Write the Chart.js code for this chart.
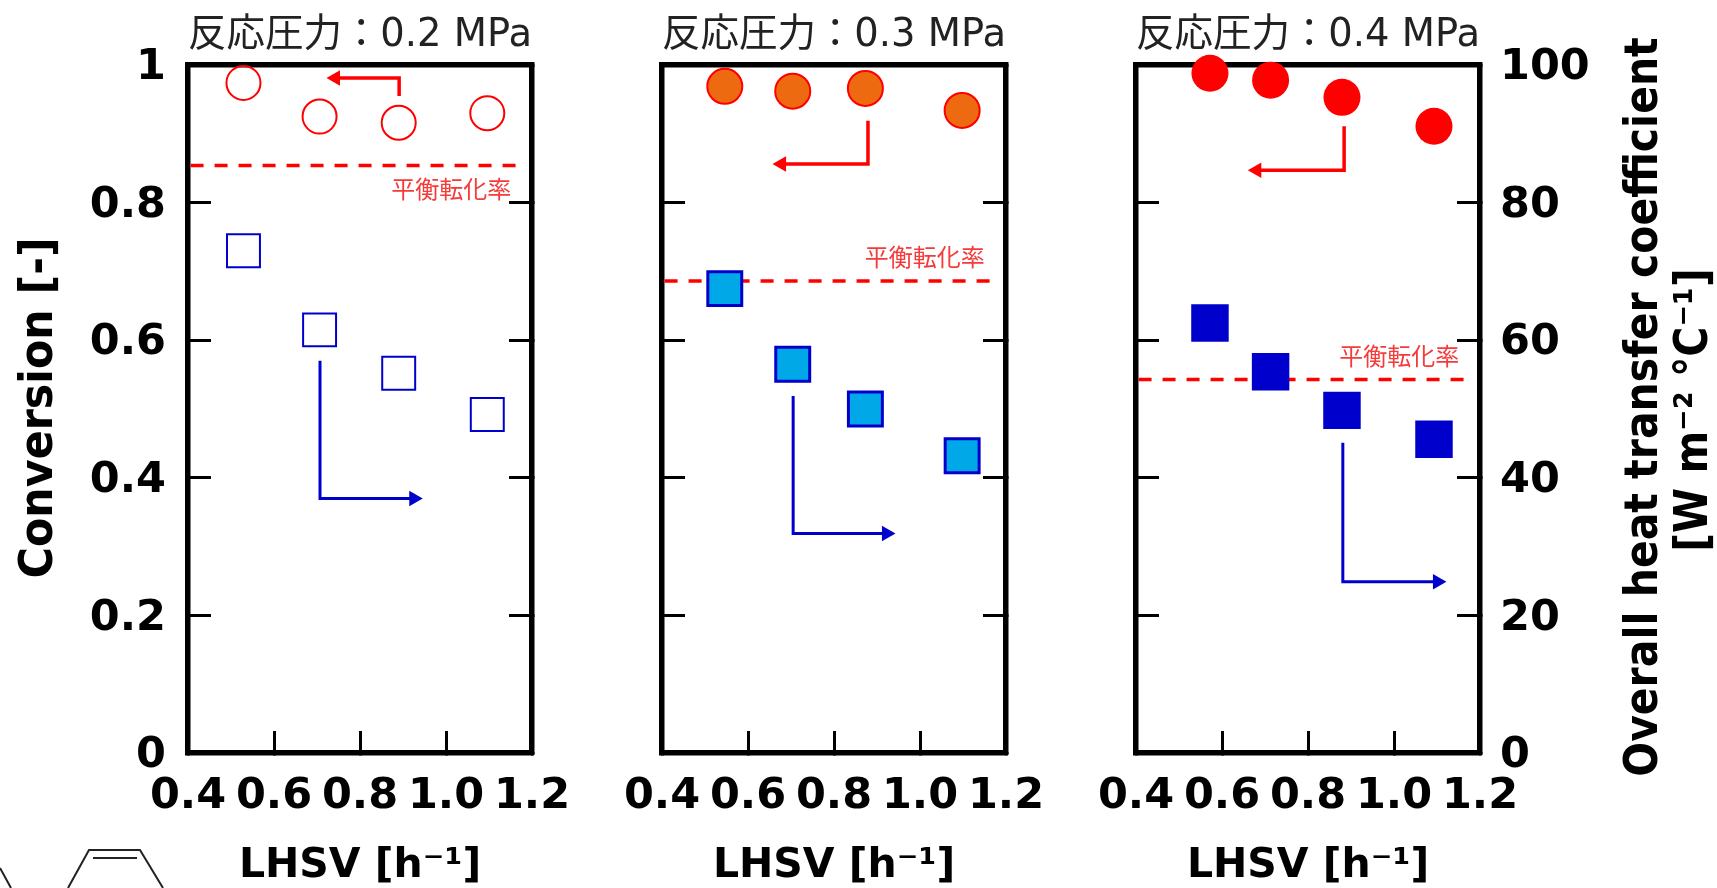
<!DOCTYPE html>
<html>
<head>
<meta charset="utf-8">
<script src="https://cdn.jsdelivr.net/npm/chart.js@4"></script>
<style>
html, body { margin: 0; padding: 0; background: #fff; overflow: hidden; }
canvas { position: absolute; left: 0; top: 0; }
</style>
</head>
<body>
<canvas id="chart1" width="1717" height="888"></canvas>
<canvas id="chart2" width="1717" height="888"></canvas>
<canvas id="chart3" width="1717" height="888"></canvas>
<script>
// values
const titles = ["反応圧力：0.2 MPa", "反応圧力：0.3 MPa", "反応圧力：0.4 MPa"];
const xTickLabels = ["0.4", "0.6", "0.8", "1.0", "1.2"];
const convTickLabels = ["0", "0.2", "0.4", "0.6", "0.8", "1"];
const eqLabel = "平衡転化率";

const lhsv1 = [0.529, 0.706, 0.890, 1.096];
const conv1 = [0.974, 0.925, 0.916, 0.930];
const heat1 = [73.0, 61.5, 55.2, 49.2];
const eq1 = 0.854;

const lhsv2 = [0.546, 0.704, 0.873, 1.098];
const conv2 = [0.969, 0.962, 0.966, 0.934];
const heat2 = [67.5, 56.5, 50.0, 43.2];
const eq2 = 0.686;

const lhsv3 = [0.572, 0.713, 0.879, 1.093];
const conv3 = [0.988, 0.978, 0.953, 0.911];
const heat3 = [62.5, 55.4, 49.8, 45.6];
const eq3 = 0.543;

// arrows [x, y] in axis units: conversion axis
const redArrow1 = [[0.891, 0.955], [0.891, 0.981], [0.743, 0.981]];
const blueArrow1 = [[0.707, 0.570], [0.707, 0.370], [0.925, 0.370]];
const redArrow2 = [[0.879, 0.919], [0.879, 0.856], [0.678, 0.856]];
const blueArrow2 = [[0.705, 0.519], [0.705, 0.319], [0.922, 0.319]];
const redArrow3 = [[0.884, 0.911], [0.884, 0.847], [0.681, 0.847]];
const blueArrow3 = [[0.881, 0.451], [0.881, 0.249], [1.101, 0.249]];

const eqLabelPos1 = [1.012, 0.820];
const eqLabelPos2 = [1.011, 0.721];
const eqLabelPos3 = [1.012, 0.577];

const BOLD = "'DejaVu Sans'";
const RED = "#ff0000";
const BLUE = "#0000cc";

function toPoints(xs, ys) {
    return xs.map((x, i) => ({ x: x, y: ys[i] }));
}

function noPadding(s) {
    s.paddingTop = 0;
    s.paddingBottom = 0;
    s.paddingLeft = 0;
    s.paddingRight = 0;
}

function arrow(pts, color, width, headRot) {
    return {
        type: "line",
        data: pts.map(p => ({ x: p[0], y: p[1] })),
        yAxisID: "y",
        borderColor: color,
        backgroundColor: color,
        borderWidth: width,
        borderJoinStyle: "miter",
        pointRadius: [0, 0, 9],
        pointBorderWidth: 0,
        pointStyle: "triangle",
        pointRotation: headRot,
        clip: false
    };
}

// small text next to the dashed line, placed through the scales
const eqLabelPlugin = {
    id: "eqLabel",
    afterDatasetsDraw(chart, args, opts) {
        const ctx = chart.ctx;
        ctx.save();
        ctx.font = "24px 'Noto Sans CJK JP'";
        ctx.fillStyle = "#f53a3a";
        ctx.textAlign = "center";
        ctx.textBaseline = "middle";
        ctx.fillText(eqLabel, chart.scales.x.getPixelForValue(opts.pos[0]), chart.scales.y.getPixelForValue(opts.pos[1]));
        ctx.restore();
    }
};

// the vertical titles are squeezed in the picture and the right one reads
// bottom to top, the scale title can't do either
function sideText(ctx, text, baseX, midY, squeeze) {
    ctx.save();
    ctx.fillStyle = "#000";
    ctx.font = "bold 46px " + BOLD;
    ctx.textAlign = "center";
    ctx.textBaseline = "alphabetic";
    ctx.translate(baseX, midY);
    ctx.rotate(-Math.PI / 2);
    ctx.scale(squeeze, 1);
    ctx.fillText(text, 0, 0);
    ctx.restore();
}

const sideTitlePlugin = {
    id: "sideTitle",
    afterDraw(chart) {
        if (chart.canvas.id === "chart1") {
            sideText(chart.ctx, "Conversion [-]", 52, 408, 0.93);
        }
        if (chart.canvas.id === "chart3") {
            sideText(chart.ctx, "Overall heat transfer coefficient", 1657, 407, 0.89);
            sideText(chart.ctx, "[W m⁻² °C⁻¹]", 1707, 410, 0.89);
        }
    }
};

// piece of the molecule sketch cut off by the bottom edge
const moleculePlugin = {
    id: "molecule",
    afterDraw(chart) {
        if (chart.canvas.id !== "chart1") return;
        const ctx = chart.ctx;
        ctx.save();
        ctx.strokeStyle = "#222";
        ctx.lineWidth = 2;
        ctx.beginPath();
        ctx.moveTo(68, 888); ctx.lineTo(89, 850); ctx.lineTo(140, 850); ctx.lineTo(163, 888);
        ctx.moveTo(93, 858); ctx.lineTo(137, 858);
        ctx.moveTo(0, 868); ctx.lineTo(11, 888);
        ctx.stroke();
        ctx.restore();
    }
};

function makePanel(id, panel) {
    const edgeAxis = {
        type: "linear",
        min: 0.4,
        max: 1.2,
        border: { color: "#000", width: 5.5 }
    };
    new Chart(document.getElementById(id), {
        type: "scatter",
        data: {
            datasets: [
                {
                    data: toPoints(panel.lhsv, panel.conv),
                    yAxisID: "y",
                    pointStyle: "circle",
                    pointRadius: panel.circleR,
                    pointBorderWidth: panel.circleBorder,
                    borderColor: RED,
                    backgroundColor: panel.circleFill,
                    clip: false
                },
                {
                    data: toPoints(panel.lhsv, panel.heat),
                    yAxisID: "y2",
                    pointStyle: "rect",
                    pointRadius: panel.squareR,
                    pointBorderWidth: panel.squareBorder,
                    borderColor: BLUE,
                    backgroundColor: panel.squareFill,
                    clip: false
                },
                arrow(panel.redArrow, RED, 3.5, -90),
                arrow(panel.blueArrow, BLUE, 3, 90),
                {
                    type: "line",
                    data: [{ x: 0.406, y: panel.eq }, { x: 1.17, y: panel.eq }],
                    yAxisID: "y",
                    borderColor: RED,
                    borderWidth: 3.5,
                    borderDash: [13, 11],
                    pointRadius: 0
                }
            ]
        },
        options: {
            responsive: false,
            animation: false,
            events: [],
            plugins: {
                legend: { display: false },
                tooltip: { enabled: false },
                eqLabel: { pos: panel.eqPos }
            },
            scales: {
                x: Object.assign({}, edgeAxis, {
                    position: "bottom",
                    afterFit(s) { s.height = 135; noPadding(s); },
                    afterBuildTicks(s) { s.ticks = xTickLabels.map(v => ({ value: parseFloat(v) })); },
                    grid: { drawOnChartArea: false, tickLength: -22, tickWidth: 3, tickColor: "#000" },
                    ticks: {
                        padding: 40,
                        autoSkip: false,
                        maxRotation: 0,
                        color: "#000",
                        font: { family: BOLD, weight: "bold", size: 43 },
                        callback: (v, i) => xTickLabels[i]
                    },
                    title: {
                        display: true,
                        text: "LHSV [h⁻¹]",
                        color: "#000",
                        font: { family: BOLD, weight: "bold", size: 41, lineHeight: 1.05 },
                        padding: { top: 0, bottom: 0 }
                    }
                }),
                x2: Object.assign({}, edgeAxis, {
                    position: "top",
                    afterFit(s) { s.height = 65; noPadding(s); },
                    grid: { drawOnChartArea: false, drawTicks: false },
                    ticks: { display: false },
                    title: {
                        display: true,
                        text: panel.title,
                        color: "#222",
                        font: { family: "'DejaVu Sans', 'Noto Sans CJK JP'", size: 39 },
                        padding: { top: 12, bottom: 0 }
                    }
                }),
                y: {
                    type: "linear",
                    position: "left",
                    min: 0,
                    max: 1,
                    afterFit(s) { s.width = panel.left; noPadding(s); },
                    border: { color: "#000", width: 5.5 },
                    grid: { drawOnChartArea: false, tickLength: -23, tickWidth: 3, tickColor: "#000" },
                    ticks: {
                        display: panel.leftLabels,
                        stepSize: 0.2,
                        padding: 45,
                        labelOffset: 3,
                        color: "#000",
                        font: { family: BOLD, weight: "bold", size: 43 },
                        callback: (v, i) => convTickLabels[i]
                    }
                },
                y2: {
                    type: "linear",
                    position: "right",
                    min: 0,
                    max: 100,
                    afterFit(s) { s.width = 1717 - panel.right; noPadding(s); },
                    border: { color: "#000", width: 5.5 },
                    grid: { drawOnChartArea: false, tickLength: -23, tickWidth: 3, tickColor: "#000" },
                    ticks: {
                        display: panel.rightLabels,
                        stepSize: 20,
                        padding: 43,
                        labelOffset: 3,
                        color: "#000",
                        font: { family: BOLD, weight: "bold", size: 43 }
                    }
                }
            }
        },
        plugins: [eqLabelPlugin, sideTitlePlugin, moleculePlugin]
    });
}

makePanel("chart1", {
    title: titles[0], left: 188, right: 532, leftLabels: true, rightLabels: false,
    lhsv: lhsv1, conv: conv1, heat: heat1, eq: eq1, eqPos: eqLabelPos1,
    redArrow: redArrow1, blueArrow: blueArrow1,
    circleFill: "rgba(255,255,255,0)", circleBorder: 2, circleR: 17,
    squareFill: "rgba(255,255,255,0)", squareBorder: 2, squareR: 23.3
});
makePanel("chart2", {
    title: titles[1], left: 662, right: 1006, leftLabels: false, rightLabels: false,
    lhsv: lhsv2, conv: conv2, heat: heat2, eq: eq2, eqPos: eqLabelPos2,
    redArrow: redArrow2, blueArrow: blueArrow2,
    circleFill: "#ee6a10", circleBorder: 2, circleR: 17.5,
    squareFill: "#00a8e8", squareBorder: 3, squareR: 24
});
makePanel("chart3", {
    title: titles[2], left: 1136, right: 1480, leftLabels: false, rightLabels: true,
    lhsv: lhsv3, conv: conv3, heat: heat3, eq: eq3, eqPos: eqLabelPos3,
    redArrow: redArrow3, blueArrow: blueArrow3,
    circleFill: RED, circleBorder: 0, circleR: 18.5,
    squareFill: BLUE, squareBorder: 0, squareR: 26.5
});
</script>
</body>
</html>
